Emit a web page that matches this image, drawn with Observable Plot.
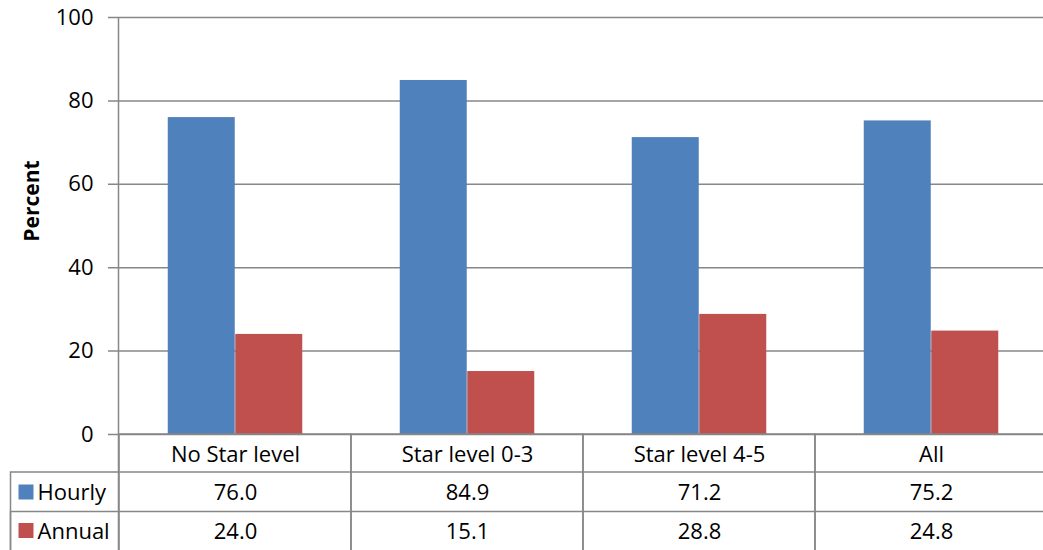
<!DOCTYPE html>
<html>
<head>
<meta charset="utf-8">
<script src="https://cdn.jsdelivr.net/npm/d3@7"></script>
<script src="https://cdn.jsdelivr.net/npm/@observablehq/plot@0.6"></script>
<style>
  html, body { margin: 0; padding: 0; background: #fff; overflow: hidden; }
  #chart svg { max-width: none !important; display: block; }
</style>
</head>
<body>
<div id="chart"></div>
<script>
const categories = ["No Star level", "Star level 0-3", "Star level 4-5", "All"];
const seriesNames = ["Hourly", "Annual"];
const hourly = [76.0, 84.9, 71.2, 75.2];
const annual = [24.0, 15.1, 28.8, 24.8];
const yTicks = [0, 20, 40, 60, 80, 100];
const colors = ["#4F81BD", "#C0504D"];

const W = 1048, H = 550, mL = 118, mT = 17, mB = 116, mR = 0;
const plotW = W - mL - mR;
const bw = plotW / categories.length;
const barW = 67.5;
const gray = "#878787";
const rowDy = [20.5, 58.5, 97];
const seriesValues = [hourly, annual];

const fmt = v => v.toFixed(1);

const marks = [
  // gridlines with tick stubs
  Plot.ruleY(yTicks, {stroke: gray, strokeWidth: 1.5, insetLeft: -10}),
  // bars
  Plot.barY(categories, {x: d => d, y: (d, i) => hourly[i], fill: colors[0],
    insetLeft: bw / 2 - barW, insetRight: bw / 2}),
  Plot.barY(categories, {x: d => d, y: (d, i) => annual[i], fill: colors[1],
    insetLeft: bw / 2, insetRight: bw / 2 - barW}),
  // data table cells (category columns)
  Plot.barY(categories, {x: d => d, y1: () => 0, y2: () => 0, insetBottom: -(mB + 2),
    fill: "none", stroke: gray, strokeWidth: 1.5}),
  // legend rows of the table
  Plot.frame({stroke: gray, strokeWidth: 1.5, fill: "none", insetLeft: -108, insetTop: (434 + 37.5) - mT, insetBottom: -(mB + 2)}),
  Plot.frame({stroke: gray, strokeWidth: 1.5, fill: "none", insetLeft: -108, insetTop: (434 + 77) - mT, insetBottom: -(mB + 2)}),
  // y axis line
  Plot.frame({fill: gray, stroke: "none", insetLeft: -0.75, insetRight: plotW - 0.75, insetBottom: -(mB + 2)}),
  // category labels
  Plot.text(categories, {x: d => d, frameAnchor: "bottom", lineAnchor: "middle", dy: rowDy[0], fill: "black"}),
  // values
  ...seriesValues.map((vals, s) =>
    Plot.text(categories, {x: d => d, text: (d, i) => fmt(vals[i]), frameAnchor: "bottom", lineAnchor: "middle", dy: rowDy[s + 1], fill: "black"})),
  // legend swatches and names
  ...seriesNames.map((name, s) =>
    Plot.dot([name], {frameAnchor: "bottom-left", dx: -92.5, dy: rowDy[s + 1] - 1, symbol: "square", r: 15 / Math.sqrt(Math.PI), fill: colors[s], stroke: "none"})),
  ...seriesNames.map((name, s) =>
    Plot.text([name], {text: d => d, frameAnchor: "bottom-left", textAnchor: "start", lineAnchor: "middle", dx: -81, dy: rowDy[s + 1], fill: "black"})),
  // y axis title
  Plot.text(["Percent"], {text: d => d, frameAnchor: "left", textAnchor: "middle", lineAnchor: "middle", rotate: -90, dx: -86, dy: -25, fontWeight: "bold", fontSize: 21, fill: "black"})
];

const chart = Plot.plot({
  width: W,
  height: H,
  marginLeft: mL,
  marginRight: mR,
  marginTop: mT,
  marginBottom: mB,
  style: {fontFamily: "'Open Sans', sans-serif", fontSize: "22px", color: "black", background: "white"},
  x: {domain: categories, padding: 0, axis: null},
  y: {domain: [0, 100], ticks: yTicks, tickSize: 0, tickPadding: 25, label: null},
  marks
});
document.getElementById("chart").appendChild(chart);
</script>
</body>
</html>
